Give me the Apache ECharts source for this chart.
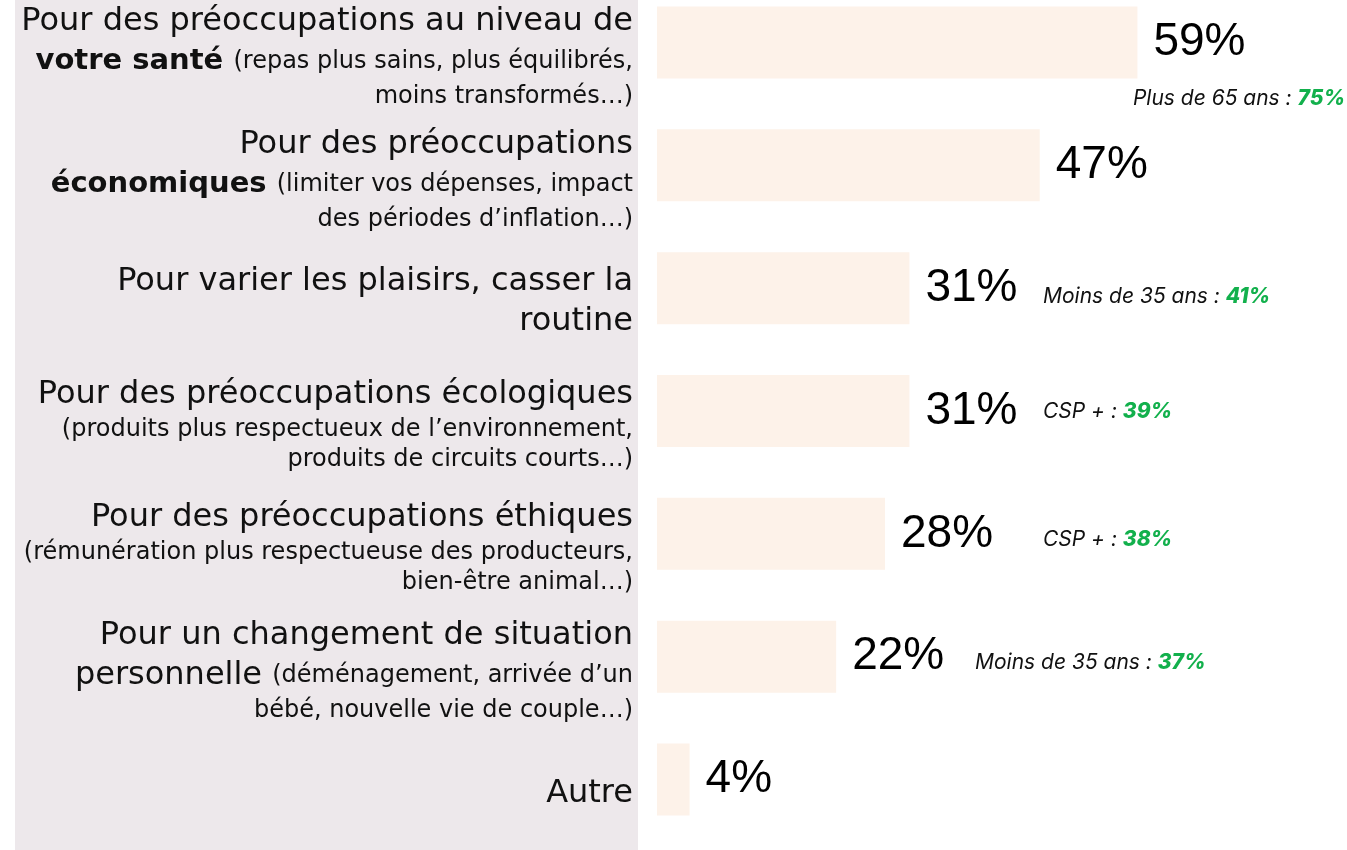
<!DOCTYPE html>
<html><head><meta charset="utf-8">
<script src="https://cdn.jsdelivr.net/npm/echarts@6/dist/echarts.min.js"></script>
<style>html,body{margin:0;padding:0;background:#fff}#c{width:1347px;height:850px}</style>
</head><body><div id="c"></div>
<script>
// ---- data ----
const categories = [
  "Pour des préoccupations au niveau de\n**votre santé** (repas plus sains, plus équilibrés,\nmoins transformés…)",
  "Pour des préoccupations\n**économiques** (limiter vos dépenses, impact\ndes périodes d’inflation…)",
  "Pour varier les plaisirs, casser la\nroutine",
  "Pour des préoccupations écologiques\n(produits plus respectueux de l’environnement,\nproduits de circuits courts…)",
  "Pour des préoccupations éthiques\n(rémunération plus respectueuse des producteurs,\nbien-être animal…)",
  "Pour un changement de situation\npersonnelle (déménagement, arrivée d’un\nbébé, nouvelle vie de couple…)",
  "Autre"
];
const values = [59, 47, 31, 31, 28, 22, 4];
const noteGroups = ["Plus de 65 ans", null, "Moins de 35 ans", "CSP +", "CSP +", "Moins de 35 ans", null];
const noteValues = [75, null, 41, 39, 38, 37, null];

// ---- layout (not data) ----
const noteLayout = [
  {x: 1345, dy: 56, align: 'right'},
  null,
  {x: 1043, dy: 9, align: 'left'},
  {x: 1043, dy: 1, align: 'left'},
  {x: 1043, dy: 6, align: 'left'},
  {x: 975, dy: 6, align: 'left'},
  null
];

const FONT = '"DejaVu Sans", Inter, sans-serif';
const NOTE_FONT = 'Inter, "DejaVu Sans", sans-serif';

function toRich(str) {
  let inParen = false, bold = false;
  return str.split('\n').map(line => {
    let out = '', buf = '', cur = null;
    const push = (st, ch) => {
      if (st !== cur) { if (buf) out += '{' + cur + '|' + buf + '}'; buf = ''; cur = st; }
      buf += ch;
    };
    for (let i = 0; i < line.length; i++) {
      if (line[i] === '*' && line[i + 1] === '*') { bold = !bold; i++; continue; }
      const ch = line[i];
      if (ch === '(') inParen = true;
      const st = inParen ? 's' : (bold ? 'b' : 'l');
      push(st, ch);
      if (ch === ')') inParen = false;
    }
    if (buf) out += '{' + cur + '|' + buf + '}';
    return out;
  }).join('\n');
}

const panel = {
  type: 'rect', z: -10, silent: true,
  shape: {x: 15, y: 0, width: 623, height: 850},
  style: {fill: '#EDE8EB'}
};

const chart = echarts.init(document.getElementById('c'), null, {renderer: 'canvas'});
chart.setOption({
  backgroundColor: '#ffffff',
  animation: false,
  graphic: [panel],
  grid: {left: 657, right: 6, top: -19, bottom: 9, containLabel: false, outerBoundsMode: 'none'},
  xAxis: {type: 'value', min: 0, max: 84, show: false},
  yAxis: {
    type: 'category', inverse: true, data: categories,
    axisLine: {show: false}, axisTick: {show: false}, splitLine: {show: false},
    axisLabel: {
      margin: 24,
      padding: [28, 0, 0, 0],
      formatter: v => toRich(v),
      rich: {
        l: {fontFamily: FONT, fontSize: 32, color: '#111', lineHeight: 40, align: 'right'},
        b: {fontFamily: FONT, fontSize: 29, fontWeight: 'bold', color: '#111', lineHeight: 40, align: 'right'},
        s: {fontFamily: FONT, fontSize: 24, color: '#111', lineHeight: 30, align: 'right'}
      }
    }
  },
  series: [{
    type: 'bar', data: values, barWidth: 72,
    itemStyle: {color: '#FDF2E9'},
    label: {
      show: true, position: 'right', distance: 16,
      formatter: p => p.value + '%',
      fontFamily: '"Liberation Sans", Arial, sans-serif', fontSize: 46, color: '#000'
    }
  }]
});

// annotations anchored to category positions via the axis scale
const notes = [];
noteGroups.forEach((g, i) => {
  if (!g) return;
  const L = noteLayout[i];
  const y = chart.convertToPixel({yAxisIndex: 0}, i);
  notes.push({
    type: 'text', silent: true, z: 10,
    x: L.x, y: y + L.dy,
    style: {
      text: '{n|' + g + ' : }{g|' + noteValues[i] + '%}',
      align: L.align, verticalAlign: 'middle',
      rich: {
        n: {fontFamily: NOTE_FONT, fontSize: 21, fontStyle: 'italic', fill: '#111'},
        g: {fontFamily: NOTE_FONT, fontSize: 21, fontStyle: 'italic', fontWeight: 800, fill: '#12B04C'}
      }
    }
  });
});
chart.setOption({graphic: [panel].concat(notes)});
</script>
</body></html>
